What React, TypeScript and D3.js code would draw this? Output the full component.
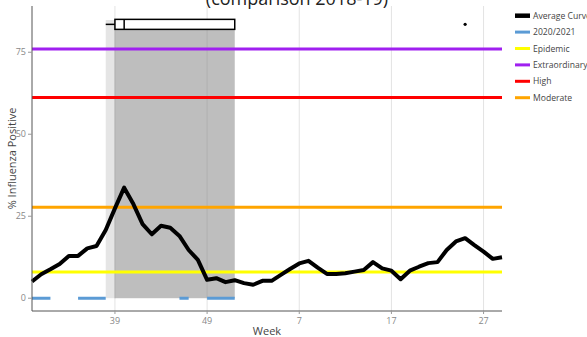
import React from "react";
import * as d3 from "d3";

const weekLabels: number[] = [
  30, 31, 32, 33, 34, 35, 36, 37, 38, 39, 40, 41, 42, 43, 44, 45, 46, 47, 48, 49, 50, 51, 52,
  1, 2, 3, 4, 5, 6, 7, 8, 9, 10, 11, 12, 13, 14, 15, 16, 17, 18, 19, 20, 21, 22, 23, 24, 25, 26, 27, 28, 29,
];
const averageCurve: number[] = [
  5.1, 7.3, 8.8, 10.4, 12.9, 12.9, 15.2, 15.9, 20.8, 27.4, 33.7, 28.7, 22.6, 19.5, 22.1, 21.5,
  19.0, 14.7, 11.7, 5.6, 6.1, 4.9, 5.5, 4.6, 4.1, 5.3, 5.3, 7.1, 8.9, 10.6, 11.4, 9.3, 7.4, 7.4,
  7.6, 8.1, 8.6, 11.0, 9.1, 8.4, 5.8, 8.4, 9.6, 10.7, 11.0, 14.7, 17.3, 18.3, 16.2, 14.2, 12.0, 12.5,
];
// 2020/2021 season: null where no data
const season2020: (number | null)[] = [
  0, 0, 0, null, null, 0, 0, 0, 0, null, null, null, null, null, null, null,
  0, 0, null, 0, 0, 0, 0,
];
const thresholdNames: string[] = ["Epidemic", "Extraordinary", "High", "Moderate"];
const thresholdValues: number[] = [8.0, 76.0, 61.2, 27.7];
const thresholdColors: string[] = ["#FFFF00", "#A020F0", "#FF0000", "#FFA500"];
const tickWeeks: number[] = [39, 49, 7, 17, 27];
const yTicks: number[] = [0, 25, 50, 75];
// season-start box plot (week indices)
const boxWhiskerLow = 8;
const boxQ1 = 9;
const boxMedian = 10;
const boxQ3 = 22;
const boxOutlier = 47;
const boxY = 83.5;

const W = 587;
const H = 337;
const left = 32;
const right = 502;
const top = 6;
const bottom = 311;

export default function App() {
  const x = d3.scaleLinear().domain([0, weekLabels.length - 1]).range([left, right]);
  const y = d3.scaleLinear().domain([-3.9, 89.1]).range([bottom, top]);

  const avgLine = d3
    .line<number>()
    .x((_, i) => x(i))
    .y((d) => y(d))(averageCurve) as string;

  const seasonLine = d3
    .line<number | null>()
    .defined((d) => d !== null)
    .x((_, i) => x(i))
    .y((d) => y(d as number))(season2020) as string;

  const legend = [
    { name: "Average Curve", color: "#000000", w: 4.5 },
    { name: "2020/2021", color: "#5B9BD5", w: 3 },
    ...thresholdNames.map((n, i) => ({ name: n, color: thresholdColors[i], w: 3 })),
  ];

  const boxTop = y(boxY) - 5;
  const boxH = 10;
  const ym = y(boxY);

  return (
    <svg
      width={W}
      height={H}
      style={{ position: "absolute", left: 0, top: 0, background: "#fff" }}
      fontFamily="'Open Sans', sans-serif"
    >
      {/* title */}
      <text x={297} y={5} textAnchor="middle" fontSize={18} fill="#222">
        (comparison 2018-19)
      </text>

      {/* vertical grid */}
      {tickWeeks.map((w) => {
        const i = weekLabels.indexOf(w);
        return (
          <line key={"g" + w} x1={x(i)} x2={x(i)} y1={top} y2={bottom} stroke="#e3e3e3" strokeWidth={1} />
        );
      })}

      {/* shading */}
      <rect x={x(boxWhiskerLow)} y={20} width={x(boxQ1) - x(boxWhiskerLow)} height={y(0) - 20} fill="#E5E5E5" />
      <rect x={x(boxQ1)} y={20} width={x(boxQ3) - x(boxQ1)} height={y(0) - 20} fill="#BEBEBE" />
      {tickWeeks.map((w) => {
        const i = weekLabels.indexOf(w);
        return i >= boxQ1 && i <= boxQ3 ? (
          <line key={"gg" + w} x1={x(i)} x2={x(i)} y1={20} y2={y(0)} stroke="#b0b0b0" strokeWidth={1} />
        ) : null;
      })}

      {/* threshold lines */}
      {thresholdValues.map((v, i) => (
        <line
          key={"t" + i}
          x1={left}
          x2={right}
          y1={y(v)}
          y2={y(v)}
          stroke={thresholdColors[i]}
          strokeWidth={3}
        />
      ))}

      {/* 2020/2021 */}
      <path d={seasonLine} fill="none" stroke="#5B9BD5" strokeWidth={3} />

      {/* average curve */}
      <path d={avgLine} fill="none" stroke="#000" strokeWidth={4} strokeLinejoin="round" />

      {/* box plot */}
      <line x1={x(boxWhiskerLow)} x2={x(boxQ1)} y1={ym} y2={ym} stroke="#000" strokeWidth={1.5} />
      <rect
        x={x(boxQ1)}
        y={boxTop}
        width={x(boxQ3) - x(boxQ1)}
        height={boxH}
        fill="#fff"
        stroke="#000"
        strokeWidth={1.5}
      />
      <line x1={x(boxMedian)} x2={x(boxMedian)} y1={boxTop} y2={boxTop + boxH} stroke="#000" strokeWidth={1.5} />
      <circle cx={x(boxOutlier)} cy={ym} r={1.6} fill="#000" />

      {/* axes */}
      <line x1={left} x2={left} y1={top} y2={bottom} stroke="#555" strokeWidth={1} />
      <line x1={left} x2={right} y1={bottom} y2={bottom} stroke="#555" strokeWidth={1} />
      {yTicks.map((t) => (
        <g key={"yt" + t}>
          <line x1={left - 4} x2={left} y1={y(t)} y2={y(t)} stroke="#999" />
          <text x={left - 6} y={y(t)} dy="0.35em" textAnchor="end" fontSize={9} fill="#888">
            {t}
          </text>
        </g>
      ))}
      {tickWeeks.map((w) => {
        const i = weekLabels.indexOf(w);
        return (
          <g key={"xt" + w}>
            <line x1={x(i)} x2={x(i)} y1={bottom} y2={bottom + 3} stroke="#999" />
            <text x={x(i)} y={bottom + 13} textAnchor="middle" fontSize={9} fill="#888">
              {w}
            </text>
          </g>
        );
      })}
      <text x={267} y={335} textAnchor="middle" fontSize={11} fill="#444">
        Week
      </text>
      <text
        transform={`translate(16,${(top + bottom) / 2}) rotate(-90)`}
        textAnchor="middle"
        fontSize={11}
        fill="#444"
      >
        % Influenza Positive
      </text>

      {/* legend */}
      {legend.map((l, i) => {
        const ly = 15.7 + i * 16.4;
        return (
          <g key={"l" + i}>
            <line x1={515} x2={530} y1={ly} y2={ly} stroke={l.color} strokeWidth={l.w} />
            <text x={533} y={ly} dy="0.35em" fontSize={8.6} fill="#444">
              {l.name}
            </text>
          </g>
        );
      })}
    </svg>
  );
}
